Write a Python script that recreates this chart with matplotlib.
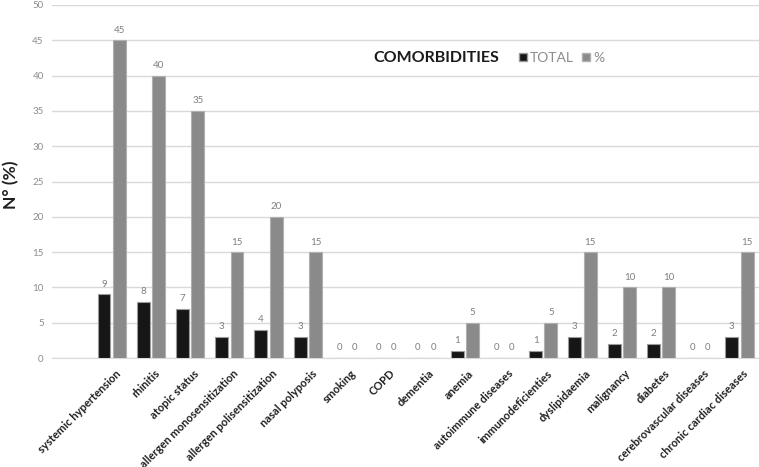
import numpy as np
import matplotlib
matplotlib.use('Agg')
import matplotlib.pyplot as plt
from matplotlib.patches import Patch

plt.rcParams['font.family'] = ['Lato', 'DejaVu Sans']

categories = ['systemic hypertension', 'rhinitis', 'atopic status',
              'allergen monosensitization', 'allergen polisensitization',
              'nasal polyposis', 'smoking', 'COPD', 'dementia', 'anemia',
              'autoimmune diseases', 'immunodeficienties', 'dyslipidaemia',
              'malignancy', 'diabetes', 'cerebrovascular diseases',
              'chronic cardiac diseases']
total = [9, 8, 7, 3, 4, 3, 0, 0, 0, 1, 0, 1, 3, 2, 2, 0, 3]
percent = [45, 40, 35, 15, 20, 15, 0, 0, 0, 5, 0, 5, 15, 10, 10, 0, 15]

fig = plt.figure(figsize=(7.59, 4.67), dpi=100)
ax = fig.add_axes([52 / 759, 1 - 358 / 467, 1 - 52 / 759, 353 / 467])

x = np.arange(len(categories))
w = 0.33
b1 = ax.bar(x - 0.195, total, w, color='#161616', edgecolor='#9a9a9a', linewidth=0.8, zorder=3)
b2 = ax.bar(x + 0.195, percent, w, color='#8a8a8a', edgecolor='#b0b0b0', linewidth=0.8, zorder=3)

for bars in (b1, b2):
    for r in bars:
        ax.annotate(f'{int(r.get_height())}', (r.get_x() + r.get_width() / 2, r.get_height()),
                    xytext=(0, 4), textcoords='offset points', ha='center', va='bottom',
                    fontsize=7, color='#7f7f7f')

ax.set_xlim(-1.52, 16.5)
ax.set_ylim(0, 50)
ax.set_yticks(range(0, 51, 5))
ax.yaxis.grid(True, color='#d9d9d9', linewidth=1, zorder=0)
ax.set_axisbelow(True)
for s in ['top', 'right', 'left']:
    ax.spines[s].set_visible(False)
ax.spines['bottom'].set_color('#d9d9d9')
ax.tick_params(axis='y', length=0, labelsize=7, labelcolor='#8c8c8c', pad=6)
ax.tick_params(axis='x', length=0, pad=7)
ax.set_xticks(x + 0.08)
ax.set_xticklabels(categories, rotation=45, ha='right', rotation_mode='anchor',
                   fontsize=8, fontweight='bold', color='#1f1f1f')

fig.text(11 / 759, 1 - 185 / 467, 'N° (%)', rotation=90, ha='center', va='center',
         fontsize=12.5, fontweight='bold', color='#1f1f1f')

fig.text(436 / 759, 1 - 58 / 467, 'COMORBIDITIES', ha='center', va='center',
         fontsize=11.5, fontweight='bold', color='#1a1a1a')
handles = [Patch(facecolor='#161616', edgecolor='#9a9a9a', label='TOTAL'),
           Patch(facecolor='#8a8a8a', edgecolor='#b0b0b0', label='%')]
leg = fig.legend(handles=handles, loc='center left', bbox_to_anchor=(519 / 759, 1 - 58 / 467),
                 ncol=2, frameon=False, fontsize=10, handlelength=0.55, handleheight=0.55,
                 handletextpad=0.25, columnspacing=0.6, borderaxespad=0, borderpad=0)
for t in leg.get_texts():
    t.set_color('#8c8c8c')

fig.savefig('out.png', dpi=100)
